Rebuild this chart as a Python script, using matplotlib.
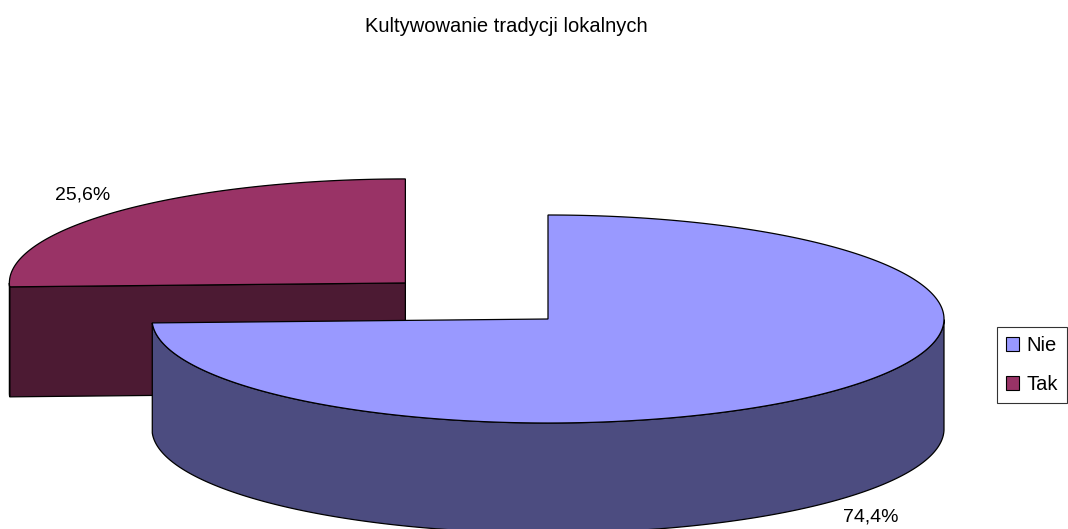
import matplotlib.pyplot as plt
from matplotlib.patches import Polygon, Patch
import numpy as np

plt.rcParams['font.family'] = ['Liberation Sans', 'DejaVu Sans']

# dane
labels = ['Nie', 'Tak']
values = [74.4, 25.6]
top_colors = ['#9999FF', '#993366']
side_colors = ['#4C4C80', '#4C1A33']
explode = [0.0, 0.5]

# geometria wykresu (piksele)
W, H = 1068, 529
cx, cy = 548, 319      # środek tortu
rx, ry = 396, 104      # półosie elipsy
depth = 110            # grubość tortu
label_rx, label_ry = 1.13, 1.22

fig = plt.figure(figsize=(W / 100, H / 100), dpi=100)
ax = fig.add_axes([0, 0, 1, 1])
ax.set_xlim(0, W)
ax.set_ylim(H, 0)
ax.axis('off')


def pt(x0, y0, t, kx=1.0, ky=1.0):
    return x0 + kx * rx * np.cos(t), y0 - ky * ry * np.sin(t)


# kąty wycinków: start na górze, zgodnie z ruchem wskazówek zegara
total = sum(values)
angles = []
end = 90.0
for v in values:
    start = end - 360.0 * v / total
    angles.append((start, end))
    end = start

# rysowanie od tyłu (Tak) do przodu (Nie)
order = [1, 0]
for i in order:
    a, b = angles[i]
    mid = np.radians((a + b) / 2)
    x0 = cx + explode[i] * rx * np.cos(mid)
    y0 = cy - explode[i] * ry * np.sin(mid)
    ar, br = np.radians(a), np.radians(b)

    # ściany cięcia
    for th, vis in [(ar, np.cos(ar) > 1e-3), (br, np.cos(br) < -1e-3)]:
        if vis:
            ex, ey = pt(x0, y0, th)
            poly = [(x0, y0), (ex, ey), (ex, ey + depth), (x0, y0 + depth)]
            ax.add_patch(Polygon(poly, closed=True, facecolor=side_colors[i],
                                 edgecolor='black', linewidth=0.9, zorder=1))

    # boczna ściana łuku (tylko przód)
    t = np.linspace(ar, br, 600)
    front = np.sin(t) < 0
    if front.any():
        tf = t[front]
        xs, ys = pt(x0, y0, tf)
        poly = list(zip(xs, ys)) + list(zip(xs[::-1], ys[::-1] + depth))
        ax.add_patch(Polygon(poly, closed=True, facecolor=side_colors[i],
                             edgecolor='black', linewidth=0.9, zorder=1))

    # wierzch
    xs, ys = pt(x0, y0, t)
    poly = [(x0, y0)] + list(zip(xs, ys))
    ax.add_patch(Polygon(poly, closed=True, facecolor=top_colors[i],
                         edgecolor='black', linewidth=0.9, zorder=1))

    # etykieta
    lx, ly = pt(x0, y0, mid, label_rx, label_ry)
    if np.sin(mid) < 0:
        ly += depth
    ax.text(lx, ly, f'{values[i]:.1f}%'.replace('.', ','), fontsize=14,
            ha='center', va='center', color='black', zorder=3)

ax.text(506, 26, 'Kultywowanie tradycji lokalnych', fontsize=14.5,
        ha='center', va='center', color='black')

handles = [Patch(facecolor=top_colors[i], edgecolor='black', linewidth=0.8)
           for i in range(len(labels))]
leg = fig.legend(handles, labels, loc='upper left',
                 bbox_to_anchor=(997 / W, 1 - 327 / H), frameon=True,
                 fancybox=False, fontsize=14.5, handlelength=0.65,
                 handleheight=0.65, handletextpad=0.35, borderpad=0.45,
                 labelspacing=1.0, borderaxespad=0)
leg.get_frame().set_edgecolor('black')
leg.get_frame().set_linewidth(0.8)

fig.savefig('out.png', dpi=100)
